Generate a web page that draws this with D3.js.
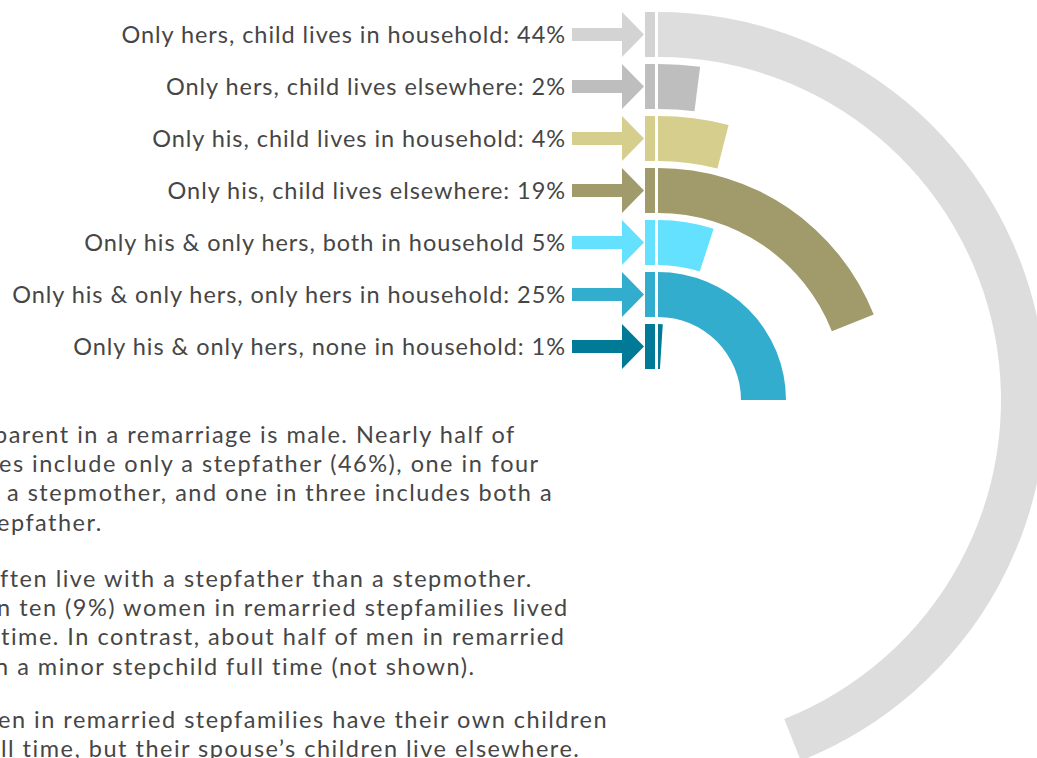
<!DOCTYPE html>
<html>
<head>
<meta charset="utf-8">
<script src="https://cdn.jsdelivr.net/npm/d3@7/dist/d3.min.js"></script>
<style>
  html, body { margin: 0; padding: 0; background: #fff; overflow: hidden; }
  svg { display: block; }
  text { font-family: "Lato", "Open Sans", sans-serif; fill: #464646; }
</style>
</head>
<body>
<svg id="chart" width="1037" height="758"></svg>
<script>
// ---- data ----
const categories = [
  "Only hers, child lives in household",
  "Only hers, child lives elsewhere",
  "Only his, child lives in household",
  "Only his, child lives elsewhere",
  "Only his & only hers, both in household",
  "Only his & only hers, only hers in household",
  "Only his & only hers, none in household"
];
const values = [44, 2, 4, 19, 5, 25, 1];
const separators = [": ", ": ", ": ", ": ", " ", ": ", ": "];
const arcColors = ["#dddddd", "#bebebe", "#d6ce8c", "#a19a6a", "#63e1ff", "#33adcd", "#007a96"];
const markColors = ["#d3d3d3", "#bebebe", "#d6ce8c", "#a19a6a", "#63e1ff", "#33adcd", "#007a96"];

const paragraphs = [
  ["parent in a remarriage is male. Nearly half of",
   "es include only a stepfather (46%), one in four",
   "a stepmother, and one in three includes both a",
   "epfather."],
  ["ften live with a stepfather than a stepmother.",
   "n ten (9%) women in remarried stepfamilies lived",
   "time. In contrast, about half of men in remarried",
   "n a minor stepchild full time (not shown)."],
  ["en in remarried stepfamilies have their own children",
   "ll time, but their spouse\u2019s children live elsewhere."]
];
const paraStartX = [[-6, -1, 7, -3], [0, -3, 1, -5], [-2, 1]];

// ---- layout ----
const svg = d3.select("#chart");
const cx = 658, cy = 400;

const band = d3.scaleBand()
  .domain(categories)
  .range([12, 369])
  .paddingInner(7 / 52)
  .paddingOuter(0);

const angle = d3.scaleLinear().domain([0, 100]).range([0, 2 * Math.PI]);

const arc = d3.arc()
  .innerRadius(d => cy - (band(d.cat) + band.bandwidth()))
  .outerRadius(d => cy - band(d.cat))
  .startAngle(0)
  .endAngle(d => angle(d.value));

const rows = categories.map((c, i) => ({ cat: c, value: values[i], i }));

// arcs
svg.append("g")
  .attr("transform", `translate(${cx},${cy})`)
  .selectAll("path")
  .data(rows)
  .join("path")
  .attr("d", arc)
  .attr("fill", d => arcColors[d.i]);

// vertical bars at start
svg.append("g").selectAll("rect")
  .data(rows)
  .join("rect")
  .attr("x", cx - 13)
  .attr("width", 10)
  .attr("y", d => band(d.cat))
  .attr("height", band.bandwidth())
  .attr("fill", d => markColors[d.i]);

// arrows
const bw = band.bandwidth();
svg.append("g").selectAll("path")
  .data(rows)
  .join("path")
  .attr("fill", d => markColors[d.i])
  .attr("d", d => {
    const top = band(d.cat), mid = top + bw / 2;
    const x0 = 572, x1 = 622, x2 = 644, sh = 6.5;
    return `M${x0},${mid - sh}L${x1},${mid - sh}L${x1},${top}L${x2},${mid}L${x1},${top + bw}L${x1},${mid + sh}L${x0},${mid + sh}Z`;
  });

// labels
svg.append("g").selectAll("text")
  .data(rows)
  .join("text")
  .attr("x", 566)
  .attr("y", d => band(d.cat) + bw / 2 + 8.5)
  .attr("text-anchor", "end")
  .attr("font-size", 23.5)
  .attr("letter-spacing", 0.95)
  .text(d => d.cat + separators[d.i] + d.value + "%");

// paragraphs
const paraBaselines = [443, 587, 728];
const lineH = 29.2;
paragraphs.forEach((lines, p) => {
  svg.append("g").selectAll("text")
    .data(lines)
    .join("text")
    .attr("x", (d, k) => paraStartX[p][k])
    .attr("y", (d, k) => paraBaselines[p] + k * lineH)
    .attr("font-size", 23.5)
    .attr("letter-spacing", 1.5)
    .text(d => d);
});
</script>
</body>
</html>
